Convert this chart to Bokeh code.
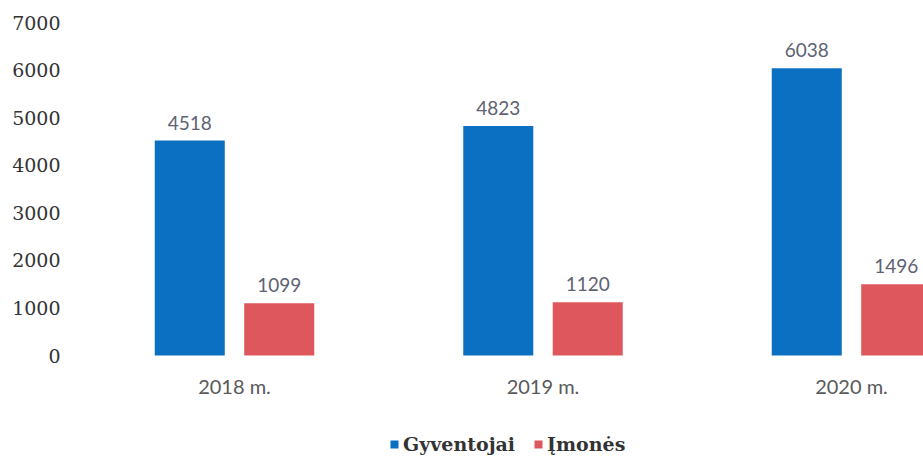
from bokeh.plotting import figure
from bokeh.models import ColumnDataSource, Range1d, FixedTicker, Legend, LegendItem
from bokeh.transform import dodge
from bokeh.core.properties import value
from bokeh.embed import file_html
from bokeh.resources import INLINE

years = ["2018 m.", "2019 m.", "2020 m."]
gyventojai = [4518, 4823, 6038]
imones = [1099, 1120, 1496]
y_ticks = [0, 1000, 2000, 3000, 4000, 5000, 6000, 7000]

BLUE = "#0B70C1"
RED = "#DD575C"
LABEL_COL = "#5E6272"

xs = list(range(len(years)))
src = ColumnDataSource(dict(
    x=xs,
    base=[0] * len(xs),
    year=years,
    gyv=gyventojai,
    imo=imones,
    gyv_txt=[str(v) for v in gyventojai],
    imo_txt=[str(v) for v in imones],
))

# frame reaches the bottom of the canvas so that the legend below the
# category labels is drawn inside it; the value axis still runs 0..7000
p = figure(width=923, height=455, output_backend="svg", toolbar_location=None,
           x_range=Range1d(-0.5316, 2.2334), y_range=Range1d(-2102, 7000),
           min_border_left=70, min_border_right=0, min_border_top=22,
           min_border_bottom=0)
p.outline_line_color = None
p.xgrid.grid_line_color = None
p.ygrid.grid_line_color = None
p.background_fill_color = "white"
p.border_fill_color = "white"
p.xaxis.visible = False

off = 0.145
bw = 0.227
r1 = p.vbar(x=dodge('x', -off), top='gyv', width=bw, source=src,
            fill_color=BLUE, line_color=None)
r2 = p.vbar(x=dodge('x', off), top='imo', width=bw, source=src,
            fill_color=RED, line_color=None)

p.text(x=dodge('x', -off), y='gyv', text='gyv_txt', source=src,
       text_align="center", text_baseline="alphabetic", y_offset=-18,
       text_font=value("Lato"), text_font_size="19px", text_color=LABEL_COL)
p.text(x=dodge('x', off), y='imo', text='imo_txt', source=src,
       text_align="center", text_baseline="alphabetic", y_offset=-18,
       text_font=value("Lato"), text_font_size="19px", text_color=LABEL_COL)

# category labels under the bars
p.text(x='x', y='base', text='year', source=src,
       text_align="center", text_baseline="alphabetic", y_offset=30,
       text_font=value("Lato"), text_font_size="20px", text_color="#595959")

# y axis
p.yaxis.ticker = FixedTicker(ticks=y_ticks)
p.yaxis.axis_line_color = None
p.yaxis.major_tick_line_color = None
p.yaxis.minor_tick_line_color = None
p.yaxis.major_tick_out = 0
p.yaxis.major_label_standoff = 10
p.yaxis.major_label_text_font = "DejaVu Serif"
p.yaxis.major_label_text_font_size = "19px"
p.yaxis.major_label_text_color = "#333333"

legend = Legend(items=[LegendItem(label="Gyventojai", renderers=[r1]),
                       LegendItem(label="Įmonės", renderers=[r2])],
                orientation="horizontal", location=(319, 0),
                label_text_font="DejaVu Serif", label_text_font_style="bold",
                label_text_font_size="19px", label_text_color="#333333",
                glyph_width=10, glyph_height=10, label_standoff=4, spacing=18,
                padding=0, margin=0, border_line_color=None,
                background_fill_alpha=0)
p.add_layout(legend)

open("out.html", "w").write(file_html(p, INLINE))
